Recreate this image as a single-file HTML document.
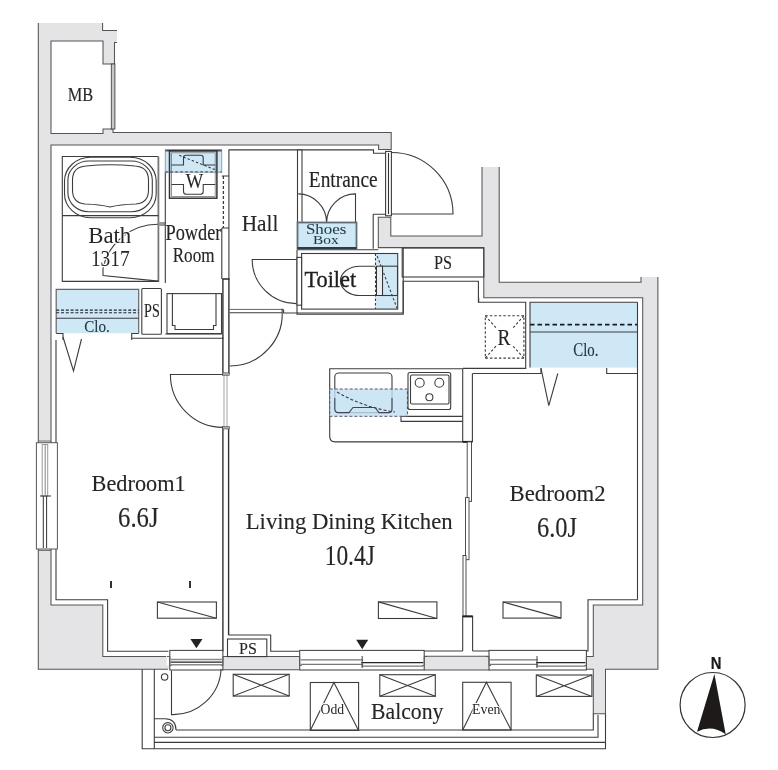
<!DOCTYPE html>
<html><head><meta charset="utf-8">
<style>
html,body{margin:0;padding:0;background:#fff;}
svg{display:block;will-change:transform;}
.w{fill:#e4e4e6;stroke:#505050;stroke-width:1.1;}
.l{fill:none;stroke:#3c3c3c;stroke-width:1.1;}
.lw{fill:#fff;stroke:#3c3c3c;stroke-width:1.1;}
.b{fill:#cfe8f6;stroke:#4a5a66;stroke-width:1.1;}
.d{fill:none;stroke:#3c3c3c;stroke-width:1.1;stroke-dasharray:3 2.5;}
</style></head><body>
<svg width="778" height="770" viewBox="0 0 778 770">
<path style="fill:#e4e4e6;stroke:none" d="M38,23 H102.6 V30.4 H117 V42.5 H114.5 V64 H103 V41 H51 V133.5 H103 V129 H113 V132.4 H391.2 V149.4 H378.6 V145 H51 V605 H102.8 V656.4 H166.7 V665.2 H169.8 V669.3 H38.3 Z"/>
<path style="fill:none;stroke:#555;stroke-width:1.05" d="M102.6,23 V30.4 H117 M117,42.5 H114.5 V64 H103 V41 H51 V133.5 H103 V129 H113 V132.4 H391.2 V149.4 H378.6 V145 H51 V605 H102.8 V656.4 H166 M38.3,23 V669.3 H168"/>
<path style="fill:#e4e4e6;stroke:none" d="M378.3,217.3 H390.8 V236 H482 V167 H499.2 V282.3 H641 V277 H657.9 V669.2 H605.5 V713.8 H593.3 V669.2 H584.4 V656.5 H593.3 V604.9 H642.7 V297.7 H483.8 V247.6 H378.3 Z"/>
<path style="fill:none;stroke:#555;stroke-width:1.05" d="M482,167 V236 H390.8 V217.3 H378.3 V247.6 H483.8 V297.7 H642.7 V604.9 H593.3 V656.5 H584.4 M584.4,669.2 H593.3 V713.8 H605.5 V669.2 H657.9 V277 M641,277 V282.3 H499.2 V167"/>
<rect style="fill:#e4e4e6;stroke:none" x="222.4" y="656.5" width="77.3" height="13.3"/>
<path style="fill:none;stroke:#555;stroke-width:1.05" d="M222.4,656.5 H299.7 M222.4,669.8 H299.7"/>
<rect style="fill:#e4e4e6;stroke:none" x="424.2" y="656.3" width="65.2" height="13.6"/>
<path style="fill:none;stroke:#555;stroke-width:1.05" d="M424.2,656.3 H489.4 M424.2,669.9 H489.4"/>
<rect x="111.3" y="64" width="3.6" height="65" style="fill:#c8c8c8;stroke:#444;stroke-width:0.9"/>
<text transform="translate(67.70,100.80) scale(0.9175,1)" font-size="17.86" style="font-family:'Liberation Serif';font-weight:normal;fill:#262626;stroke:#262626;stroke-width:0.13">MB</text>
<path class="l" d="M228.6,149.9 H373.5 V153.3 H385.4"/>
<path class="l" d="M62.3,282 V156.5 H158.4"/>
<path d="M158.4,156.5 V282" style="stroke:#777;stroke-width:1.8;fill:none"/>
<path class="l" d="M62.3,215.6 H158.4 M62.3,281.4 H158.4"/>
<rect class="l" x="64.5" y="157.2" width="91.7" height="60.5" rx="26" ry="24"/>
<rect class="l" x="67.9" y="161" width="84.4" height="50.8" rx="21" ry="19"/>
<path class="l" d="M86,166 Q110,163.5 135,166 Q148.5,167 148.5,180 V190 Q148.5,203 136,204 Q120,204.5 110,207 Q100,204.5 85,204 Q72.5,203 72.5,190 V180 Q72.5,167 86,166 Z"/>
<path class="l" d="M158.4,224.3 A56,56 0 0 0 103,268.5 V275.6 L158.4,281.1"/>
<text transform="translate(88.20,242.50) scale(0.9768,1)" font-size="23.36" paint-order="stroke" style="font-family:'Liberation Serif';font-weight:normal;fill:#262626;stroke:#fff;stroke-width:2.50;stroke-linejoin:round">Bath</text>
<text transform="translate(90.90,265.50) scale(0.8305,1)" font-size="23.36" paint-order="stroke" style="font-family:'Liberation Serif';font-weight:normal;fill:#262626;stroke:#fff;stroke-width:2.50;stroke-linejoin:round">1317</text>
<rect x="158.4" y="222" width="6.8" height="4" style="fill:#999"/>
<path class="l" d="M165.3,172 V283"/>
<rect x="165.3" y="149.7" width="56.4" height="22.5" style="fill:#cfe8f6;stroke:#8aa0ac;stroke-width:1"/>
<path d="M165.3,150.6 H221.7" style="stroke:#556;stroke-width:1.8"/>
<rect x="169.5" y="150.8" width="47.4" height="47.4" style="fill:none;stroke:#333;stroke-width:1.5"/>
<rect x="171.6" y="152.8" width="43.6" height="43.6" style="fill:none;stroke:#777;stroke-width:0.8"/>
<path class="l" d="M171.4,165 H183.5 V157.5 Q183.5,155.3 186,155.3 H200.7 Q203.2,155.3 203.2,157.5 V165 H215.3"/>
<path class="l" d="M171.4,184.5 H183.5 V191.5 Q183.5,194.3 186.5,194.3 H200.2 Q203.2,194.3 203.2,191.5 V184.5 H215.3"/>
<path class="d" d="M179.2,155.3 L215,169.6" style="stroke-dasharray:2.5 2"/>
<path d="M165.3,171.8 H221.7" style="stroke:#557;stroke-width:1.3;stroke-dasharray:2.5 2.5;fill:none"/>
<text transform="translate(185.70,188.40) scale(0.8928,1)" font-size="20.76" style="font-family:'Liberation Serif';font-weight:normal;fill:#262626;stroke:#262626;stroke-width:0.13">W</text>
<text transform="translate(165.50,240.40) scale(0.8058,1)" font-size="22.75" style="font-family:'Liberation Serif';font-weight:normal;fill:#262626;stroke:#262626;stroke-width:0.15">Powder</text>
<text transform="translate(172.70,261.80) scale(0.7886,1)" font-size="21.68" style="font-family:'Liberation Serif';font-weight:normal;fill:#262626;stroke:#262626;stroke-width:0.15">Room</text>
<path class="d" d="M223.4,176 V228" style="stroke-dasharray:3 2;stroke-width:1.3"/>
<path class="l" d="M221.8,176 H228.6 M221.8,228 H228.6 M228.9,150 V279 M221.8,228 V279"/>
<rect class="l" x="167" y="293.6" width="54.5" height="40"/>
<path class="l" d="M172.4,293.6 V325.5 H175 V329.5 H213.5 V325.5 H216 V293.6"/>
<rect class="l" x="141.8" y="288.5" width="19.6" height="45.8" rx="1"/>
<text transform="translate(144.10,316.70) scale(0.7904,1)" font-size="17.86" style="font-family:'Liberation Serif';font-weight:normal;fill:#262626;stroke:#262626;stroke-width:0.15">PS</text>
<rect x="56.2" y="289.3" width="82.5" height="43.9" style="fill:#cfe8f6;stroke:none"/>
<path d="M56.2,333.2 V289.3 H138.7 V333.2" style="fill:none;stroke:#666;stroke-width:1.2"/>
<path d="M56.2,310.1 H138.7 M56.2,312.7 H138.7" style="fill:none;stroke:#223;stroke-width:1.1;stroke-dasharray:3 1.8"/>
<path class="l" d="M56.2,318.3 H138.7"/>
<text transform="translate(84.20,332.10) scale(0.9160,1)" font-size="16.49" style="font-family:'Liberation Serif';font-weight:normal;fill:#223a48;stroke:#223a48;stroke-width:0.13">Clo.</text>
<path class="l" d="M56.2,333.5 H63 M63,333 V340 M131.7,333 V340 M131.7,338.3 H223.6 M131.7,333.5 H138.7 M165.3,334 H221.8"/>
<path class="l" d="M63,337 L73.5,371 L81.5,339"/>
<path d="M222.9,279 V374 M228.9,279 V374 M222.9,427.6 V651.3 M228.6,427.6 V635" style="fill:none;stroke:#333;stroke-width:1.4"/>
<path d="M222.2,279 H229.6" style="stroke:#333;stroke-width:1.6"/>
<rect x="224" y="374" width="3" height="53.6" style="fill:#fff;stroke:#999;stroke-width:0.9"/>
<rect x="222.4" y="372.8" width="6.9" height="2.6" style="fill:#aaa;stroke:#555;stroke-width:0.6"/>
<rect x="222.4" y="426.4" width="6.9" height="2.6" style="fill:#aaa;stroke:#555;stroke-width:0.6"/>
<text transform="translate(241.70,231.10) scale(0.9306,1)" font-size="22.90" style="font-family:'Liberation Serif';font-weight:normal;fill:#262626;stroke:#262626;stroke-width:0.13">Hall</text>
<rect class="lw" x="297.5" y="150" width="4.5" height="72.5"/>
<text transform="translate(308.80,186.60) scale(0.8525,1)" font-size="22.75" style="font-family:'Liberation Serif';font-weight:normal;fill:#262626;stroke:#262626;stroke-width:0.14">Entrance</text>
<path class="l" d="M298.2,193.9 A28.5,29 0 0 1 326.6,222.8 A28.9,29 0 0 1 355.5,193.9 V222.8"/>
<rect x="297.5" y="222.5" width="59" height="25.8" style="fill:#cfe8f6;stroke:#5f6e78;stroke-width:1.8"/>
<path d="M297.5,248 H356.5" style="stroke:#2c3a44;stroke-width:2.2"/>
<text transform="translate(305.90,234.30) scale(1.2476,1)" font-size="13.59" style="font-family:'Liberation Serif';font-weight:normal;fill:#1e3a48;stroke:#1e3a48;stroke-width:0.04">Shoes</text>
<text transform="translate(313.10,244.40) scale(1.1975,1)" font-size="12.82" style="font-family:'Liberation Serif';font-weight:normal;fill:#1e3a48;stroke:#1e3a48;stroke-width:0.04">Box</text>
<path class="l" d="M373.2,214.2 H385.3 M373.2,214.2 V248.7"/>
<rect class="lw" x="385.6" y="151.4" width="5.8" height="64.4"/>
<path d="M388.5,153 V214" style="stroke:#333;stroke-width:1.1"/>
<path class="l" d="M391.4,152.5 A61.5,61.5 0 0 1 453,214 H391.4"/>
<path class="l" d="M297,249.7 H378.3 M297,249.7 V314.2 H403.2 V248"/>
<rect x="375.5" y="253.5" width="22.2" height="55.6" style="fill:#cfe8f6;stroke:none"/>
<rect class="l" x="301.6" y="253.5" width="96.1" height="55.6"/>
<path class="d" d="M375.5,253.5 V309.1 M377.2,256 L397,308.2" style="stroke-dasharray:2.5 2"/>
<rect class="l" x="382.5" y="266.2" width="15" height="29.3"/>
<rect x="376.5" y="266.2" width="6" height="29.3" style="fill:#e8eef2;stroke:#333;stroke-width:1"/>
<path class="l" d="M375.5,266.2 H360 A19.6,14.65 0 0 0 360,295.5 H375.5"/>
<rect class="lw" x="297" y="257.4" width="4.6" height="47.8"/>
<text transform="translate(304.40,286.60) scale(0.9630,1)" font-size="23.21" style="font-family:'Liberation Serif';font-weight:normal;fill:#1f1f1f;stroke:#1f1f1f;stroke-width:0.36">Toilet</text>
<path class="l" d="M296.4,259.5 H252.2 A44.2,44.2 0 0 0 296.4,303.6"/>
<rect class="l" x="402.2" y="248" width="81.6" height="29"/>
<text transform="translate(434.00,269.20) scale(0.8910,1)" font-size="18.17" style="font-family:'Liberation Serif';font-weight:normal;fill:#262626;stroke:#262626;stroke-width:0.13">PS</text>
<path class="l" d="M229.6,312.7 H282 M283.6,309.4 V313 H403.2 V281.2 H478.4 V302.3 H525.7 V368.4 H463"/>
<path class="l" d="M229.6,309.4 H283.6" style="stroke-width:0.8"/>
<path class="l" d="M282,308.8 A52.5,52.5 0 0 1 229.6,366"/>
<path class="l" d="M222.9,374.5 H170.4 A52.5,52.9 0 0 0 222.9,427.4"/>
<path class="l" d="M478.7,297.7 V302.3"/>
<rect class="d" x="485.3" y="315.7" width="38.6" height="42.4" style="stroke-dasharray:2.5 2"/>
<path class="d" d="M485.3,315.7 L497,329 M523.9,315.7 L512,329 M485.3,358.1 L497,345 M523.9,358.1 L512,345" style="stroke-dasharray:2.5 2"/>
<text transform="translate(497.40,344.80) scale(0.8445,1)" font-size="22.90" style="font-family:'Liberation Serif';font-weight:normal;fill:#262626;stroke:#262626;stroke-width:0.14">R</text>
<rect x="530" y="302.3" width="107.5" height="65.3" style="fill:#cfe8f6;stroke:none"/>
<path class="l" d="M530,367.6 V302.3 H637.5"/>
<path d="M530,324.7 H637.5" style="fill:none;stroke:#1a1a1a;stroke-width:1.8;stroke-dasharray:4.5 3"/>
<path class="l" d="M530,332 H637.5"/>
<text transform="translate(573.30,356.30) scale(0.8220,1)" font-size="18.02" style="font-family:'Liberation Serif';font-weight:normal;fill:#223a48;stroke:#223a48;stroke-width:0.15">Clo.</text>
<path class="l" d="M472.5,373.5 H541 V368 M606.7,368 V373.5 H637.5 M637.5,302.3 V599.8"/>
<path class="l" d="M541,368.4 L548.8,405.7 L557.8,373.5"/>
<path class="l" d="M329.7,368.8 H462.7 V441.9 H335 Q329.7,441.9 329.7,436 Z"/>
<path class="l" d="M401,416.4 H462.7 M401,416.4 V421.4 H462.7"/>
<rect class="l" x="334.8" y="373" width="57.2" height="39.6" rx="4"/>
<rect x="329.7" y="389" width="77.7" height="27.3" style="fill:#bfe0f2;fill-opacity:0.8;stroke:#557;stroke-width:1;stroke-dasharray:3 2"/>
<path class="d" d="M337,392 Q365,408 395,412" style="stroke-dasharray:3 2"/>
<path class="l" d="M334.8,398 V409 Q334.8,412.6 338,412.6 H349 L353,407.5 H375 L379,412.6 H389 Q392,412.6 392,409 V398" style="stroke:#445"/>
<rect class="l" x="408" y="372.5" width="42.7" height="37" rx="2"/>
<rect class="l" x="410.5" y="375" width="38.5" height="29" rx="1.5"/>
<circle class="l" cx="419.7" cy="382.8" r="4.5"/>
<circle class="l" cx="439.3" cy="382.8" r="4.5"/>
<circle class="l" cx="429.4" cy="397.2" r="3.5"/>
<path class="l" d="M472.4,373.5 V441.9"/>
<path d="M462.7,441.9 H472.4" style="stroke:#222;stroke-width:2"/>
<rect class="lw" x="467.2" y="441.9" width="4.3" height="59.5" style="stroke-width:0.9"/>
<rect class="lw" x="465.5" y="497.6" width="3.5" height="62.1" style="stroke-width:0.9"/>
<rect class="lw" x="463" y="555.5" width="3" height="61" style="stroke-width:0.9"/>
<path class="l" d="M462.7,651 V616.4 H472.6 V651 M424.2,651 H462.7"/>
<path d="M462.7,616.4 H472.6" style="stroke:#222;stroke-width:2"/>
<path class="l" d="M56,340 V599.8 H107.6 V651.3 H168.4"/>
<rect x="36.4" y="442.7" width="21" height="106.3" style="fill:#fff;stroke:#555;stroke-width:1"/>
<path d="M38.5,442.7 V441 H51 V442.7 M38.5,549 V550.5 H51 V549" style="fill:none;stroke:#666;stroke-width:0.9"/>
<rect x="42.2" y="444.5" width="5.5" height="51.5" style="fill:#fff;stroke:#999;stroke-width:1"/>
<path d="M45.2,445 V495" style="stroke:#777;stroke-width:0.9"/>
<path d="M43.3,496 V548 M46.6,496 V548" style="stroke:#333;stroke-width:1"/>
<path d="M40,496 H51" style="stroke:#333;stroke-width:1"/>
<text transform="translate(91.60,490.50) scale(0.9668,1)" font-size="23.05" style="font-family:'Liberation Serif';font-weight:normal;fill:#262626;stroke:#262626;stroke-width:0.12">Bedroom1</text>
<text transform="translate(118.10,526.60) scale(0.8564,1)" font-size="28.85" style="font-family:'Liberation Serif';font-weight:normal;fill:#262626;stroke:#262626;stroke-width:0.14">6.6J</text>
<path d="M111,581 V588 M190,581 V588" style="stroke:#333;stroke-width:2;fill:none"/>
<rect class="l" x="157.4" y="602" width="59" height="16.2"/>
<path class="l" d="M157.4,602 L216.4,618.2"/>
<path d="M190.4,639 H202.5 L196.4,648.3 Z" fill="#222"/>
<text transform="translate(245.70,528.90) scale(0.9540,1)" font-size="23.82" style="font-family:'Liberation Serif';font-weight:normal;fill:#262626;stroke:#262626;stroke-width:0.13">Living Dining Kitchen</text>
<text transform="translate(324.70,564.90) scale(0.8117,1)" font-size="28.85" style="font-family:'Liberation Serif';font-weight:normal;fill:#262626;stroke:#262626;stroke-width:0.15">10.4J</text>
<rect class="l" x="378.4" y="601.9" width="58.5" height="16.6"/>
<path class="l" d="M378.4,601.9 L436.9,618.5"/>
<path d="M356.2,639.8 H368.2 L362.2,649.3 Z" fill="#222"/>
<text transform="translate(509.60,500.90) scale(0.9873,1)" font-size="23.05" style="font-family:'Liberation Serif';font-weight:normal;fill:#262626;stroke:#262626;stroke-width:0.12">Bedroom2</text>
<text transform="translate(537.00,536.70) scale(0.8524,1)" font-size="28.70" style="font-family:'Liberation Serif';font-weight:normal;fill:#262626;stroke:#262626;stroke-width:0.14">6.0J</text>
<rect class="l" x="503" y="602" width="58" height="16.1"/>
<path class="l" d="M503,602 L561,618.1"/>
<path class="l" d="M472.6,651 H489.4 M584.4,651 H588 V599.8 H637.6"/>
<path class="l" d="M228.4,635 H270.7 V651.3 H299.7"/>
<rect class="l" x="227.5" y="639" width="39.3" height="17.6"/>
<text transform="translate(239.00,653.60) scale(0.9039,1)" font-size="17.71" style="font-family:'Liberation Serif';font-weight:normal;fill:#262626;stroke:#262626;stroke-width:0.13">PS</text>
<rect x="169.8" y="650.4" width="53.1" height="19.6" style="fill:#fff;stroke:#444;stroke-width:1.05"/>
<path d="M166.8,656.5 H169.8 V665.5 H171.8 M225.9,656.5 H222.9 V665.5 H220.9" style="fill:none;stroke:#555;stroke-width:0.9"/>
<path d="M170.8,659.5 H221.9 M170.8,664.7 H221.9" style="stroke:#8a8a8a;stroke-width:1.4"/>
<path d="M170.8,662.1 H221.9" style="stroke:#222;stroke-width:1.1"/>
<rect x="299.7" y="650.4" width="124.5" height="19.6" style="fill:#fff;stroke:#444;stroke-width:1.05"/>
<path d="M296.7,656.5 H299.7 V665.5 H301.7 M427.2,656.5 H424.2 V665.5 H422.2" style="fill:none;stroke:#555;stroke-width:0.9"/>
<path d="M300.7,659.8 H363.2 M300.7,664.3 H363.2" style="stroke:#777;stroke-width:1.2"/>
<path d="M361.2,662.6 H423.2" style="stroke:#222;stroke-width:1.4"/>
<path d="M361.2,666.2 H423.2" style="stroke:#777;stroke-width:1.2"/>
<path d="M362.2,656 V668" style="stroke:#444;stroke-width:1"/>
<rect x="489.0" y="650.4" width="97.4" height="19.6" style="fill:#fff;stroke:#444;stroke-width:1.05"/>
<path d="M486.0,656.5 H489.0 V665.5 H491.0 M589.4,656.5 H586.4 V665.5 H584.4" style="fill:none;stroke:#555;stroke-width:0.9"/>
<path d="M490.0,659.8 H538.0 M490.0,664.3 H538.0" style="stroke:#777;stroke-width:1.2"/>
<path d="M536.0,662.6 H585.4" style="stroke:#222;stroke-width:1.4"/>
<path d="M536.0,666.2 H585.4" style="stroke:#777;stroke-width:1.2"/>
<path d="M537.0,656 V668" style="stroke:#444;stroke-width:1"/>
<path class="l" d="M142.2,669.3 V748.8 H605.5 V713.8 M154.3,669.3 V748.8 M154.3,737.3 H598 V715 M154.3,742.4 H605.5 M176,730 H593.3 V713.8"/>
<path class="l" d="M154.3,718.8 H165 Q176,719 176,730 M171.5,670.4 V714.6 A48,48 0 0 0 221.1,669"/>
<circle class="l" cx="164.6" cy="676.9" r="3.2"/>
<circle class="l" cx="167.9" cy="727.8" r="5.2"/>
<circle class="l" cx="167.9" cy="727.8" r="3"/>
<rect class="l" x="233.2" y="674.3" width="56.0" height="21.8"/>
<path class="l" d="M233.2,674.3 L289.2,696.1 M289.2,674.3 L233.2,696.1"/>
<rect class="l" x="379.8" y="674.7" width="55.5" height="21.6"/>
<path class="l" d="M379.8,674.7 L435.3,696.3 M435.3,674.7 L379.8,696.3"/>
<rect class="l" x="536.3" y="675.0" width="55.6" height="21.4"/>
<path class="l" d="M536.3,675.0 L591.9,696.4 M591.9,675.0 L536.3,696.4"/>
<rect class="l" x="310.3" y="682.5" width="48.3" height="47.9"/>
<path class="l" d="M310.3,730.4 L333.9,682.5 L358.6,730.4"/>
<text transform="translate(320.60,714.00) scale(0.8977,1)" font-size="15.27" paint-order="stroke" style="font-family:'Liberation Serif';font-weight:normal;fill:#262626;stroke:#fff;stroke-width:2.00;stroke-linejoin:round">Odd</text>
<rect class="l" x="462.7" y="682.3" width="48.4" height="47.7"/>
<path class="l" d="M462.7,730 L486.4,682.3 L511.1,730"/>
<text transform="translate(472.00,714.40) scale(0.9269,1)" font-size="14.96" paint-order="stroke" style="font-family:'Liberation Serif';font-weight:normal;fill:#262626;stroke:#fff;stroke-width:2.00;stroke-linejoin:round">Even</text>
<text transform="translate(371.00,718.90) scale(0.9373,1)" font-size="23.21" style="font-family:'Liberation Serif';font-weight:normal;fill:#262626;stroke:#262626;stroke-width:0.13">Balcony</text>
<circle cx="712.6" cy="705" r="32.5" fill="none" stroke="#333" stroke-width="1.2"/>
<path d="M714.4,674 L725.7,734.3 Q711.7,724 697,731.8 Z" fill="#1e1a1a"/>
<text transform="translate(710.80,669.00) scale(0.9104,1)" font-size="16.28" style="font-family:'Liberation Sans';font-weight:bold;fill:#1a1a1a;stroke:#1a1a1a;stroke-width:0.22">N</text>
</svg>
</body></html>
